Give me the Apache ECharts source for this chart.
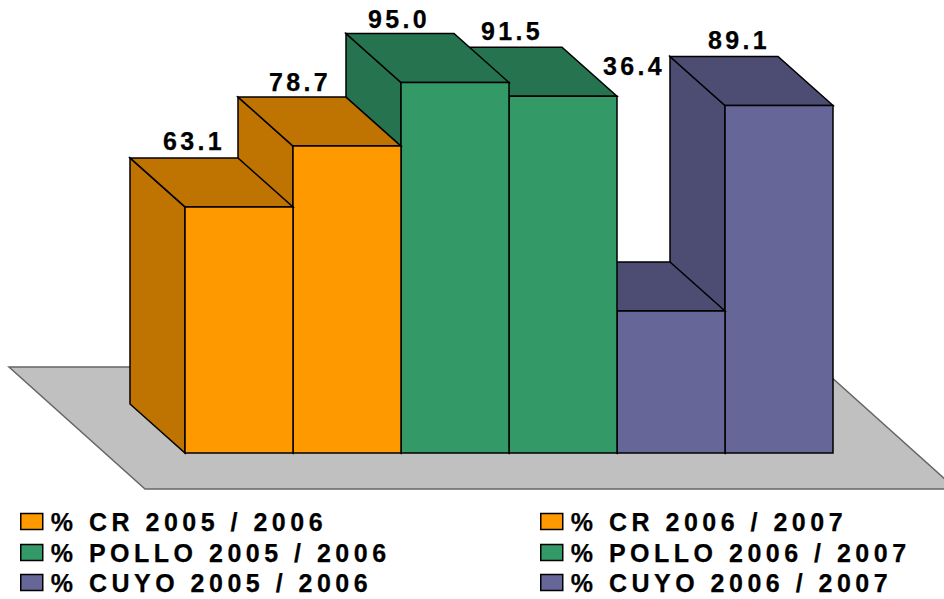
<!DOCTYPE html>
<html>
<head>
<meta charset="utf-8">
<style>
html,body{margin:0;padding:0;background:#fff}
#c{width:944px;height:599px}
#c text{letter-spacing:3.4px;stroke:#000;stroke-width:.25px}
#c text[style*="Arial"]{letter-spacing:4.5px}
</style>
<script src="https://cdn.jsdelivr.net/npm/echarts@6/dist/echarts.min.js"></script>
</head>
<body>
<div id="c"></div>
<script>
var categories = ['% CR 2005 / 2006','% CR 2006 / 2007','% POLLO 2005 / 2006','% POLLO 2006 / 2007','% CUYO 2005 / 2006','% CUYO 2006 / 2007'];
var values = [63.1, 78.7, 95.0, 91.5, 36.4, 89.1];
var frontColors = ['#FF9900','#FF9900','#339966','#339966','#666699','#666699'];
var darkColors = ['#BF7300','#BF7300','#267350','#267350','#4D4D73','#4D4D73'];

var DX = -55, DY = -49;
var labelNudge = [[10,-17],[8,-15],[-1,-15],[4,-16],[18,-196],[15,-17]];
var legendSpots = [[20,523],[540,523],[20,554],[540,554],[20,584],[540,584]];

function poly(points, fill, stroke, lw){
  return {type:'polygon', shape:{points:points}, style:{fill:fill, stroke:stroke||'#000', lineWidth:lw||1.5, lineJoin:'miter'}};
}
function renderBar(idx){
  return function(params, api){
    var top = api.coord([idx, api.value(1)]);
    var base = api.coord([idx, 0]);
    var w = api.size([1,0])[0];
    var l = top[0]-w/2, r = top[0]+w/2, t = top[1], b = base[1];
    var nudge = labelNudge[idx];
    return {type:'group', children:[
      poly([[l,t],[l+DX,t+DY],[l+DX,b+DY],[l,b]], darkColors[idx]),
      poly([[l,t],[r,t],[r+DX,t+DY],[l+DX,t+DY]], darkColors[idx]),
      poly([[l,t],[r,t],[r,b],[l,b]], frontColors[idx]),
      {type:'text', x:top[0]+DX+nudge[0], y:t+DY+nudge[1], z2:50, style:{
        text:values[idx].toFixed(1), fill:'#000', align:'center', verticalAlign:'middle',
        font:'bold 25px "Liberation Sans"'}}
    ]};
  };
}
function renderFloor(params, api){
  var a = api.coord([0,0]), z = api.coord([5,0]);
  var w = api.size([1,0])[0];
  var left = a[0]-w/2, right = z[0]+w/2, b = a[1];
  var backY = b+DY-37, frontY = b+36;
  return {type:'group', children:[
    {type:'polygon', shape:{points:[[left-176,backY],[right-13,backY],[right+123,frontY],[left-40,frontY]]},
     style:{fill:'#C0C0C0', stroke:'#666', lineWidth:1.5}}
  ]};
}
var series = [{type:'custom', name:'floor', silent:true, z:1, clip:false, renderItem:renderFloor, data:[[0,0]], encode:{x:0,y:1}}];
for (var i = categories.length-1; i >= 0; i--){
  series.push({type:'custom', name:categories[i], z:2, silent:true, clip:false,
    itemStyle:{color:frontColors[i]}, renderItem:renderBar(i), data:[[i,values[i]]], encode:{x:0,y:1}});
}
var legends = categories.map(function(name,i){
  return {data:[{name:name, icon:'rect'}], left:legendSpots[i][0], top:legendSpots[i][1]-14, padding:0,
    itemWidth:22, itemHeight:16, selectedMode:false,
    itemStyle:{borderColor:'#000', borderWidth:1.5},
    textStyle:{fontFamily:'Arial', fontWeight:'bold', fontSize:25, color:'#000', padding:[1,0,0,3]}};
});
var chart = echarts.init(document.getElementById('c'), null, {renderer:'svg'});
chart.setOption({
  animation:false,
  backgroundColor:'#fff',
  grid:{left:185, width:648, top:63, bottom:146},
  xAxis:{type:'category', data:categories, show:false, boundaryGap:true},
  yAxis:{type:'value', min:0, max:100, show:false},
  legend:legends,
  series:series
});
</script>
</body>
</html>
